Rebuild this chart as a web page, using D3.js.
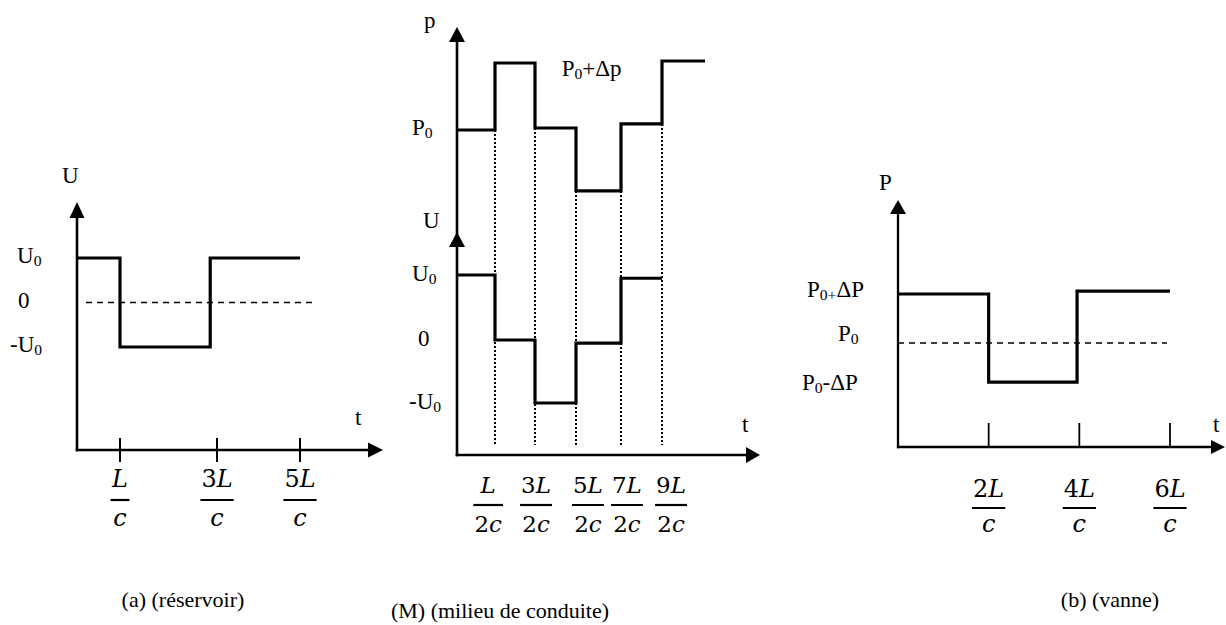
<!DOCTYPE html>
<html><head><meta charset="utf-8">
<script src="https://cdn.jsdelivr.net/npm/d3@7"></script>
<style>
body{margin:0;background:#fff}
svg{display:block}
text{font-family:"Liberation Serif","Times New Roman",serif;fill:#000}
</style>
</head><body>
<svg id="c" width="1226" height="625"></svg>
<script>
// ================= DATA =================
// (a) réservoir : U(t), t in units of L/c
const resT = [0, 1, 2.86, 5];
const resU = [1, -1, 1, 1];
const resTicks = [1, 3, 5];
const resTickLabels = ["L/c", "3L/c", "5L/c"];
const resLevels = [1, 0, -1];
const resLevelLabels = ["U_{0}", "0", "-U_{0}"];

// (M) milieu de conduite : p(t) and U(t), t in units of L/2c
const midPT = [0, 1, 3, 5, 7, 9, 11];
const midP = [0, 1, 0.03, -0.91, 0.09, 1.03, 1.03];
const midUT = [0, 1, 3, 5, 7, 9];
const midU = [1, 0, -1, -0.05, 0.95, 0.95];
const midTicks = [1, 3, 5, 7, 9];
const midTickLabels = ["L/2c", "3L/2c", "5L/2c", "7L/2c", "9L/2c"];
const midLabelT = [0.82, 3.05, 5.53, 7.29, 9.42];
const midPLevels = [0];
const midPLevelLabels = ["P_{0}"];
const midULevels = [1, 0, -1];
const midULevelLabels = ["U_{0}", "0", "-U_{0}"];

// (b) vanne : P(t), t in units of L/c
const valT = [0, 2, 3.95, 6];
const valP = [1, -0.8, 1.06, 1.06];
const valTicks = [2, 4, 6];
const valTickLabels = ["2L/c", "4L/c", "6L/c"];
const valLevels = [1, 0, -0.8];
const valLevelLabels = ["P_{0+}ΔP", "P_{0}", "P_{0}-ΔP"];

const captions = ["(a) (réservoir)", "(M) (milieu de conduite)", "(b) (vanne)"];

// ================= DRAW =================
const svg = d3.select("#c");
const FS = 23;

function richText(sel, str, fs) {
  const parts = str.split(/(_\{[^}]*\})/).filter(s => s.length);
  let pending = 0;
  parts.forEach(p => {
    if (p.startsWith("_{")) {
      sel.append("tspan").attr("font-size", fs * 0.68).attr("dy", 3 + pending).text(p.slice(2, -1));
      pending = -3;
    } else {
      sel.append("tspan").attr("dy", pending).text(p);
      pending = 0;
    }
  });
  return sel;
}

function label(g, x, y, str, anchor, fs) {
  const t = g.append("text").attr("x", x).attr("y", y)
    .attr("text-anchor", anchor || "start").attr("font-size", fs || FS);
  richText(t, str, fs || FS);
  return t;
}

function mathPart(t, s) {
  for (const ch of s) {
    t.append("tspan").attr("font-style", /[A-Za-z]/.test(ch) ? "italic" : "normal").text(ch);
  }
}

function frac(g, cx, str, numBase, barY, denBase, fs) {
  const [n, d] = str.split("/");
  const tn = g.append("text").attr("x", cx).attr("y", numBase).attr("text-anchor", "middle")
    .attr("font-size", fs).style("font-family", "'DejaVu Serif',serif");
  mathPart(tn, n);
  const td = g.append("text").attr("x", cx).attr("y", denBase).attr("text-anchor", "middle")
    .attr("font-size", fs).style("font-family", "'DejaVu Serif',serif");
  mathPart(td, d);
  const w = Math.max(tn.node().getBBox().width, td.node().getBBox().width) + 2;
  g.append("line").attr("x1", cx - w / 2).attr("x2", cx + w / 2)
    .attr("y1", barY).attr("y2", barY).attr("stroke", "#000").attr("stroke-width", 2.2);
}

function arrowUp(g, x, tip, len, hw) {
  g.append("path").attr("d", `M${x},${tip}L${x - hw},${tip + len}L${x + hw},${tip + len}Z`).attr("fill", "#000");
}
function arrowRight(g, y, tip, len, hw) {
  g.append("path").attr("d", `M${tip},${y}L${tip - len},${y - hw}L${tip - len},${y + hw}Z`).attr("fill", "#000");
}

function axisLines(g, x0, y0, yTop, xEnd, w) {
  g.append("line").attr("x1", x0).attr("x2", x0).attr("y1", y0 + w / 2).attr("y2", yTop + 8)
    .attr("stroke", "#000").attr("stroke-width", w);
  g.append("line").attr("x1", x0 - w / 2).attr("x2", xEnd - 8).attr("y1", y0).attr("y2", y0)
    .attr("stroke", "#000").attr("stroke-width", w);
}

function stepPath(g, x, y, T, V, w) {
  const line = d3.line().x((d, i) => x(T[i])).y(d => y(d)).curve(d3.curveStepAfter);
  g.append("path").attr("d", line(V)).attr("fill", "none").attr("stroke", "#000")
    .attr("stroke-width", w).attr("stroke-linejoin", "miter").attr("stroke-linecap", "butt");
}

// ---------- Panel (a) ----------
{
  const g = svg.append("g");
  const x = d3.scaleLinear().domain([0, 1, 3, 5]).range([77, 120, 217, 300]);
  const y = d3.scaleLinear().domain([-1, 1]).range([347, 258]);
  const x0 = x(0), yAx = 450, yTop = 202, xEnd = 383;
  axisLines(g, x0, yAx, yTop, xEnd, 2.6);
  arrowUp(g, x0, yTop, 16, 7.5);
  arrowRight(g, yAx, xEnd, 15, 7.5);
  g.selectAll(".tk").data(resTicks).enter().append("line")
    .attr("x1", d => x(d)).attr("x2", d => x(d)).attr("y1", yAx - 12).attr("y2", yAx + 12)
    .attr("stroke", "#000").attr("stroke-width", 2);
  g.append("line").attr("x1", x0 + 9).attr("x2", 315).attr("y1", y(0)).attr("y2", y(0))
    .attr("stroke", "#000").attr("stroke-width", 1.4).attr("stroke-dasharray", "6,5");
  stepPath(g, x, y, resT, resU, 3.2);
  const lx = [17, 18, 10];
  resLevels.forEach((v, i) => label(g, lx[i], y(v) + 5, resLevelLabels[i]));
  label(g, 62, 183, "U");
  label(g, 355, 425, "t");
  resTicks.forEach((t, i) => frac(g, x(t), resTickLabels[i], 487, 500, 526, 24));
  label(g, 183, 607, captions[0], "middle", 22);
}

// ---------- Panel (M) ----------
{
  const g = svg.append("g");
  const x = d3.scaleLinear().domain([0, 1, 3, 5, 7, 9, 11]).range([457, 495, 535, 576, 621, 662, 705]);
  const yp = d3.scaleLinear().domain([0, 1]).range([130, 63]);
  const yu = d3.scaleLinear().domain([-1, 0, 1]).range([403, 340, 275]);
  const x0 = x(0), yAx = 455, xEnd = 760;
  // axes
  g.append("line").attr("x1", x0).attr("x2", x0).attr("y1", yAx + 1.3).attr("y2", 35)
    .attr("stroke", "#000").attr("stroke-width", 2.6);
  g.append("line").attr("x1", x0 - 1.3).attr("x2", xEnd - 8).attr("y1", yAx).attr("y2", yAx)
    .attr("stroke", "#000").attr("stroke-width", 2.6);
  arrowUp(g, x0, 27, 15, 8);
  arrowUp(g, x0, 232, 15, 8);
  arrowRight(g, yAx, xEnd, 14, 8);
  // dotted guides
  midTicks.forEach(t => {
    const i = midPT.indexOf(t);
    const ys = Math.max(yp(midP[i - 1]), yp(midP[i]));
    g.append("line").attr("x1", x(t)).attr("x2", x(t)).attr("y1", ys).attr("y2", 445)
      .attr("stroke", "#000").attr("stroke-width", 2).attr("stroke-dasharray", "2,2");
  });
  stepPath(g, x, yp, midPT, midP, 3.2);
  stepPath(g, x, yu, midUT, midU, 3.2);
  label(g, 424, 28, "p");
  label(g, 412, yp(0) + 5, midPLevelLabels[0]);
  label(g, x(4.3), yp(1) + 13, "P_{0}+Δp");
  label(g, 423, 228, "U");
  const lx = [412, 418, 409];
  midULevels.forEach((v, i) => label(g, lx[i], yu(v) + 6, midULevelLabels[i]));
  label(g, 742, 432, "t");
  midLabelT.forEach((t, i) => frac(g, x(t), midTickLabels[i], 493, 505, 532, 23));
  label(g, 500, 618, captions[1], "middle", 22);
}

// ---------- Panel (b) ----------
{
  const g = svg.append("g");
  const x = d3.scaleLinear().domain([0, 6]).range([898, 1170]);
  const y = d3.scaleLinear().domain([0, 1]).range([343, 294]);
  const x0 = x(0), yAx = 447, yTop = 200, xEnd = 1225;
  axisLines(g, x0, yAx, yTop, xEnd, 2.3);
  arrowUp(g, x0, yTop, 14, 8);
  arrowRight(g, yAx, xEnd, 14, 7);
  g.selectAll(".tk").data(valTicks).enter().append("line")
    .attr("x1", d => x(d)).attr("x2", d => x(d)).attr("y1", yAx - 24).attr("y2", yAx)
    .attr("stroke", "#000").attr("stroke-width", 1.8);
  g.append("line").attr("x1", x0).attr("x2", 1167).attr("y1", y(0)).attr("y2", y(0))
    .attr("stroke", "#000").attr("stroke-width", 1.4).attr("stroke-dasharray", "6,5");
  stepPath(g, x, y, valT, valP, 3.2);
  const lx = [807, 838, 802];
  const dy = [3, -2, 8];
  valLevels.forEach((v, i) => label(g, lx[i], y(v) + dy[i], valLevelLabels[i]));
  label(g, 879, 190, "P");
  label(g, 1213, 432, "t");
  valTicks.forEach((t, i) => frac(g, x(t), valTickLabels[i], 497, 508, 532, 24));
  label(g, 1110, 607, captions[2], "middle", 22);
}
</script>
</body></html>
